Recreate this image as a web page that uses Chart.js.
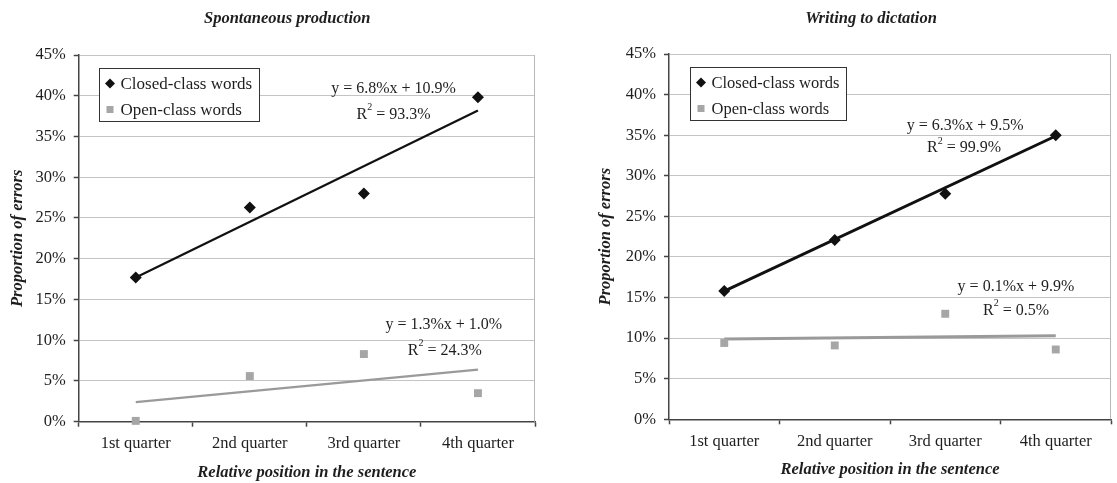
<!DOCTYPE html>
<html>
<head>
<meta charset="utf-8">
<script src="https://cdn.jsdelivr.net/npm/chart.js@4.4.1/dist/chart.umd.min.js"></script>
<style>
  html, body { margin: 0; padding: 0; background: #fff; }
  #wrap { position: relative; width: 1117px; height: 483px; }
  .box { position: absolute; top: 0; height: 483px; }
  #left { left: 0; width: 560px; }
  #right { left: 560px; width: 557px; }
</style>
</head>
<body>
<div id="wrap">
  <div class="box" id="left"><canvas id="chartLeft"></canvas></div>
  <div class="box" id="right"><canvas id="chartRight"></canvas></div>
</div>
<script>
// categories and axis ticks
const quarters = ['1st quarter', '2nd quarter', '3rd quarter', '4th quarter'];
const yTickValues = [0, 5, 10, 15, 20, 25, 30, 35, 40, 45];

// Spontaneous production
const spontClosed = [17.7, 26.3, 28.0, 39.8];
const spontOpen = [0.1, 5.6, 8.3, 3.5];
const spontClosedTrend = [17.7, null, null, 38.2];
const spontOpenTrend = [2.4, null, null, 6.4];
const spontClosedEq = 'y = 6.8%x + 10.9%';
const spontClosedR2 = '93.3%';
const spontOpenEq = 'y = 1.3%x + 1.0%';
const spontOpenR2 = '24.3%';

// Writing to dictation
const dictClosed = [15.8, 22.1, 27.8, 35.0];
const dictOpen = [9.4, 9.1, 13.0, 8.6];
const dictClosedTrend = [15.8, null, null, 34.9];
const dictOpenTrend = [9.9, null, null, 10.3];
const dictClosedEq = 'y = 6.3%x + 9.5%';
const dictClosedR2 = '99.9%';
const dictOpenEq = 'y = 0.1%x + 9.9%';
const dictOpenR2 = '0.5%';

const SERIF = '"Liberation Serif", "Times New Roman", serif';
const TEXT = '#1e1e1e';

// draws the title, boxed legend, trendline labels and the plot border
const extrasPlugin = {
  id: 'extras',
  afterDraw(chart, args, o) {
    const ctx = chart.ctx;
    const ca = chart.chartArea;
    const xs = chart.scales.x, ys = chart.scales.y;
    ctx.save();

    // right border of the plot
    ctx.strokeStyle = '#b8b8b8';
    ctx.lineWidth = 1;
    ctx.beginPath();
    ctx.moveTo(Math.round(ca.right) - 0.5, ca.top);
    ctx.lineTo(Math.round(ca.right) - 0.5, ca.bottom);
    ctx.stroke();

    // chart title
    ctx.fillStyle = TEXT;
    ctx.font = 'italic bold 16.5px ' + SERIF;
    ctx.textAlign = 'center';
    ctx.textBaseline = 'middle';
    ctx.fillText(o.title, ca.left + ca.width * o.titleFrac, o.titleY);

    // legend box
    const lg = o.legend;
    ctx.font = lg.size + 'px ' + SERIF;
    const pts = chart.data.datasets.filter(d => !d.isTrend);
    let tw = 0;
    pts.forEach(d => { tw = Math.max(tw, ctx.measureText(d.label).width); });
    const bx = Math.round(ca.left + lg.dx) + 0.5, by = Math.round(ca.top + lg.dy) + 0.5;
    const bw = Math.round(tw + 28), bh = 53;
    ctx.fillStyle = '#fff';
    ctx.fillRect(bx, by, bw, bh);
    ctx.strokeStyle = '#333';
    ctx.lineWidth = 1;
    ctx.strokeRect(bx, by, bw, bh);
    pts.forEach((d, i) => {
      const cy = by + 15 + i * 26;
      const cx = bx + 10.5;
      ctx.fillStyle = d.backgroundColor;
      ctx.beginPath();
      if (d.pointStyle === 'rectRot') {
        ctx.moveTo(cx, cy - 5); ctx.lineTo(cx + 5, cy); ctx.lineTo(cx, cy + 5); ctx.lineTo(cx - 5, cy);
        ctx.closePath(); ctx.fill();
      } else {
        ctx.fillRect(cx - 3.5, cy - 3.5, 7, 7);
      }
      ctx.fillStyle = TEXT;
      ctx.textAlign = 'left';
      ctx.textBaseline = 'middle';
      ctx.fillText(d.label, bx + 21, cy + 1);
    });

    // trendline equations
    o.notes.forEach(n => {
      ctx.font = '16px ' + SERIF;
      ctx.fillStyle = TEXT;
      ctx.textAlign = 'center';
      ctx.textBaseline = 'middle';
      ctx.fillText(n.eq, xs.getPixelForValue(n.eqAt[0]), ys.getPixelForValue(n.eqAt[1]));
      // R squared with a raised 2
      const rest = ' = ' + n.r2;
      const wR = ctx.measureText('R').width;
      const wRest = ctx.measureText(rest).width;
      ctx.font = '10px ' + SERIF;
      const w2 = ctx.measureText('2').width;
      const total = wR + w2 + wRest;
      const cx = xs.getPixelForValue(n.r2At[0]);
      const cy = ys.getPixelForValue(n.r2At[1]);
      let x = cx - total / 2;
      ctx.textAlign = 'left';
      ctx.font = '16px ' + SERIF;
      ctx.fillText('R', x, cy);
      x += wR;
      ctx.font = '10px ' + SERIF;
      ctx.fillText('2', x, cy - 7);
      x += w2;
      ctx.font = '16px ' + SERIF;
      ctx.fillText(rest, x, cy);
    });
    ctx.restore();
  }
};

function makeChart(id, s) {
  return new Chart(document.getElementById(id), {
    type: 'line',
    data: {
      labels: quarters,
      datasets: [
        { label: 'Closed-class words', data: s.closed, showLine: false, pointStyle: 'rectRot', clip: false,
          pointRadius: 6, backgroundColor: '#111', borderColor: '#111', borderWidth: 0, order: 0 },
        { label: 'Open-class words', data: s.open, showLine: false, pointStyle: 'rect', clip: false,
          pointRadius: 5.6, backgroundColor: '#a6a6a6', borderColor: '#a6a6a6', borderWidth: 0, order: 0 },
        { label: 'closed trend', isTrend: true, data: s.closedTrend, spanGaps: true, pointRadius: 0,
          borderColor: '#111', borderWidth: s.trendWidth, order: 1 },
        { label: 'open trend', isTrend: true, data: s.openTrend, spanGaps: true, pointRadius: 0,
          borderColor: '#9a9a9a', borderWidth: s.trendWidth, order: 1 }
      ]
    },
    options: {
      responsive: true,
      maintainAspectRatio: false,
      animation: false,
      events: [],
      layout: { padding: { left: 0, right: s.padRight, top: s.padTop, bottom: 0 } },
      plugins: {
        legend: { display: false },
        tooltip: { enabled: false },
        extras: {
          title: s.title, titleFrac: 0.457, titleY: 19,
          legend: { dx: 20.5, dy: 13, size: s.legendSize },
          notes: s.notes
        }
      },
      scales: {
        x: {
          offset: true,
          afterFit: sc => { sc.height = s.xHeight; },
          grid: { offset: true, drawOnChartArea: false, drawTicks: true, tickLength: 5,
                  tickColor: '#444', tickWidth: 1.5 },
          border: { display: true, color: '#444', width: 1.5 },
          ticks: { color: TEXT, font: { family: SERIF, size: 16.5 }, padding: 7, maxRotation: 0, autoSkip: false },
          title: { display: true, text: 'Relative position in the sentence', color: TEXT,
                   font: { family: SERIF, size: 16.5, style: 'italic', weight: 'bold' },
                   padding: { top: 0, bottom: s.xTitlePad } }
        },
        y: {
          min: 0, max: 45,
          afterFit: sc => { sc.width = s.yWidth; },
          afterBuildTicks: sc => { sc.ticks = yTickValues.map(v => ({ value: v })); },
          grid: { color: '#c4c4c4', lineWidth: 1, drawTicks: true, tickLength: 5,
                  tickColor: '#444', tickWidth: 1.5 },
          border: { display: true, color: '#444', width: 1.5 },
          ticks: { color: TEXT, font: { family: SERIF, size: 16.5 }, padding: 8,
                   callback: v => v + '%' },
          title: { display: true, text: 'Proportion of errors', color: TEXT,
                   font: { family: SERIF, size: 16.5, style: 'italic', weight: 'bold' },
                   padding: { top: s.yTitlePad, bottom: 0 } }
        }
      }
    },
    plugins: [extrasPlugin]
  });
}

makeChart('chartLeft', {
  title: 'Spontaneous production',
  closed: spontClosed, open: spontOpen,
  closedTrend: spontClosedTrend, openTrend: spontOpenTrend,
  trendWidth: 2.2,
  padTop: 55, padRight: 25, yWidth: 78.7, xHeight: 61.3,
  xTitlePad: 0, yTitlePad: 8, legendSize: 17,
  notes: [
    { eq: spontClosedEq, eqAt: [2.26, 40.9], r2: spontClosedR2, r2At: [2.26, 37.7] },
    { eq: spontOpenEq, eqAt: [2.70, 11.9], r2: spontOpenR2, r2At: [2.71, 8.7] }
  ]
});

makeChart('chartRight', {
  title: 'Writing to dictation',
  closed: dictClosed, open: dictOpen,
  closedTrend: dictClosedTrend, openTrend: dictOpenTrend,
  trendWidth: 3,
  padTop: 54, padRight: 1, yWidth: 109, xHeight: 63.7,
  xTitlePad: 3, yTitlePad: 36, legendSize: 16.5,
  notes: [
    { eq: dictClosedEq, eqAt: [2.18, 36.1], r2: dictClosedR2, r2At: [2.17, 33.4] },
    { eq: dictOpenEq, eqAt: [2.64, 16.3], r2: dictOpenR2, r2At: [2.64, 13.4] }
  ]
});
</script>
</body>
</html>
